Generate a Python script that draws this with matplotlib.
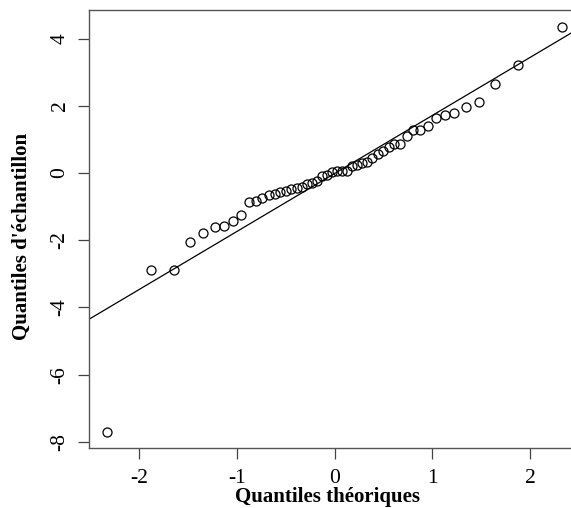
import numpy as np
import matplotlib
matplotlib.use("Agg")
import matplotlib.pyplot as plt

plt.rcParams['font.family'] = ['Liberation Serif', 'DejaVu Serif']

# theoretical normal quantiles (n = 50)
theo = [-2.326, -1.881, -1.645, -1.476, -1.341, -1.227, -1.126, -1.036, -0.954, -0.878,
        -0.806, -0.739, -0.674, -0.613, -0.553, -0.496, -0.440, -0.385, -0.332, -0.279,
        -0.228, -0.176, -0.126, -0.075, -0.025, 0.025, 0.075, 0.126, 0.176, 0.228,
        0.279, 0.332, 0.385, 0.440, 0.496, 0.553, 0.613, 0.674, 0.739, 0.806,
        0.878, 0.954, 1.036, 1.126, 1.227, 1.341, 1.476, 1.645, 1.881, 2.326]
# sample quantiles (sorted)
sample = [-7.70, -2.87, -2.87, -2.05, -1.77, -1.60, -1.59, -1.44, -1.24, -0.85,
          -0.84, -0.74, -0.66, -0.62, -0.56, -0.52, -0.47, -0.46, -0.43, -0.32,
          -0.30, -0.25, -0.10, -0.05, 0.02, 0.05, 0.06, 0.07, 0.20, 0.25,
          0.29, 0.34, 0.45, 0.56, 0.67, 0.77, 0.85, 0.87, 1.11, 1.27,
          1.28, 1.40, 1.63, 1.73, 1.79, 1.95, 2.11, 2.65, 3.20, 4.35]
line_intercept = -0.015
line_slope = 1.726

xticks = [-2, -1, 0, 1, 2]
yticks = [-8, -6, -4, -2, 0, 2, 4]

W, H = 571, 508
fig = plt.figure(figsize=(W / 100, H / 100), dpi=100)
# plot region in pixels: left 89, right 580 (cut off), top 10, bottom 448
ax = fig.add_axes([89 / W, 1 - 448 / H, (580 - 89) / W, (448 - 10) / H])

ax.plot(theo, sample, 'o', mfc='none', mec='black', ms=6.5, mew=0.9, ls='none')
xl = np.array([-2.512, 2.512])
ax.plot(xl, line_intercept + line_slope * xl, color='black', lw=0.9)

ax.set_xlim(-2.512, 2.512)
ax.set_ylim(-8.18, 4.85)
ax.set_xticks(xticks)
ax.set_xticklabels([str(t) for t in xticks])
ax.set_yticks(yticks)
ax.set_yticklabels([str(t) for t in yticks], rotation=90, va='center')

ax.tick_params(direction='out', length=8, width=0.9, colors='#444444',
               labelcolor='black', labelsize=15.5)
ax.tick_params(axis='x', pad=7)
ax.tick_params(axis='y', pad=6)
for s in ax.spines.values():
    s.set_color('#555555')
    s.set_linewidth(1.0)

fig.text(328 / W, 1 - 497 / H, 'Quantiles théoriques', ha='center', va='center',
         fontsize=15, fontweight='bold')
fig.text(22 / W, 1 - 236 / H, "Quantiles d'échantillon", ha='center', va='center',
         rotation=90, fontsize=15, fontweight='bold')

fig.savefig('out.png', dpi=100)
